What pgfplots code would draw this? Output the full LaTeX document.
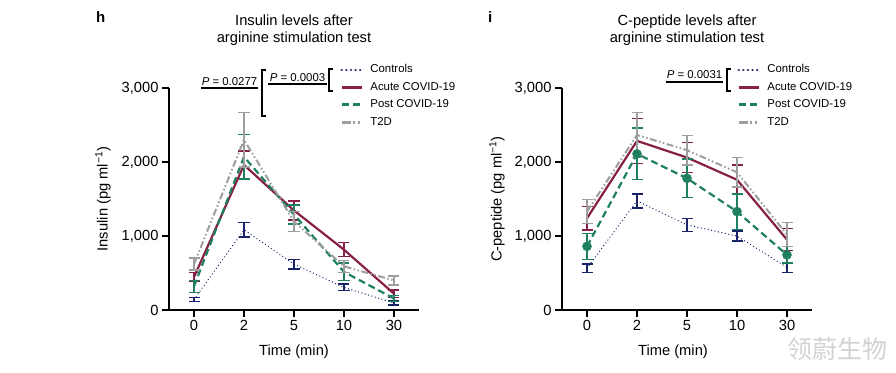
\documentclass[border=0pt]{standalone}
\usepackage{fontspec}
\setmainfont{Liberation Sans}
\newfontfamily\cjk{Noto Sans CJK SC}
\usepackage{pgfplots}
\pgfplotsset{compat=1.18}
\definecolor{cnavy}{RGB}{25,35,105}
\definecolor{cmaroon}{RGB}{135,32,72}
\definecolor{cgreen}{RGB}{30,128,95}
\definecolor{cgray}{RGB}{158,158,158}
\newcommand{\fmain}{\fontsize{14.7bp}{17.6bp}\selectfont}
\newcommand{\fsmall}{\fontsize{11.4bp}{13bp}\selectfont}
\pgfplotsset{
 ctrl/.style={cnavy, line width=1.3bp, line cap=round, dash pattern=on 0.1bp off 3.4bp},
 acute/.style={cmaroon, line width=2.2bp},
 post/.style={cgreen, line width=2.2bp, dash pattern=on 7bp off 4bp},
 t2d/.style={cgray, line width=2bp, dash pattern=on 7bp off 2.5bp on 1.5bp off 2.5bp on 1.5bp off 2.5bp},
 myaxis/.style={
  width=250bp, height=222bp, scale only axis,
  xmin=-0.5, xmax=4.5, ymin=0, ymax=3000,
  axis x line=bottom, axis y line=left,
  axis line style={-, line width=1.2bp, black},
  xtick={0,1,2,3,4}, xticklabels={0,2,5,10,30},
  ytick={0,1000,2000,3000},
  tick align=outside, major tick length=7bp,
  tick style={line width=1.2bp, black},
  /pgf/number format/1000 sep={,},
  /pgf/number format/assume math mode=true,
  tick label style={font=\fmain},
  label style={font=\fmain},
  title style={font=\fmain, align=center, at={(axis description cs:0.5,1.234)}, anchor=center},
  xlabel={Time (min)},
  clip=false,
  legend style={draw=none, fill=none, anchor=north west, inner sep=0pt, outer sep=0pt, font=\fsmall, row sep=6.5bp, column sep=7bp, nodes={inner sep=0pt, text height=8.5bp, text depth=2.5bp}},
  legend cell align=left,
  error bars/y dir=both, error bars/y explicit,
  error bars/error mark=|,
  error bars/error bar style={solid, line width=1.4bp, line cap=butt},
  error bars/error mark options={solid, line width=1.4bp, mark size=5.5bp},
 },
}
\begin{document}
\begin{tikzpicture}
\useasboundingbox (0,0) rectangle (896bp,373bp);
% ---------------- Insulin ----------------
\begin{axis}[myaxis, at={(169bp,63bp)}, anchor=south west,
  title={Insulin levels after\\arginine stimulation test},
  ylabel={Insulin (pg ml\textsuperscript{−1})},
  ylabel style={at={(axis description cs:-0.264,0.5)}, anchor=center},
  xlabel style={at={(axis description cs:0.5,-0.189)}, anchor=center},
  legend image code/.code={\draw[#1] (0bp,0bp) -- (20bp,0bp);},
  legend style={at={(axis description cs:0.684,1.106)}},
]
\addplot[ctrl, forget plot] coordinates {(0,140) +- (0,25) (1,1085) +- (0,100) (2,620) +- (0,65) (3,305) +- (0,45) (4,95) +- (0,30)};
\addplot[acute, forget plot] coordinates {(0,445) +- (0,60) (1,1960) +- (0,190) (2,1345) +- (0,130) (3,815) +- (0,95) (4,220) +- (0,50)};
\addplot[post, forget plot] coordinates {(0,320) +- (0,80) (1,2070) +- (0,300) (2,1290) +- (0,130) (3,515) +- (0,120) (4,155) +- (0,40)};
\addplot[t2d, forget plot] coordinates {(0,620) +- (0,80) (1,2300) +- (0,370) (2,1195) +- (0,135) (3,590) +- (0,80) (4,400) +- (0,60)};
\addlegendimage{cnavy, line width=2.6bp, line cap=round, dash pattern=on 0.1bp off 4.5bp}
\addlegendentry{Controls}
\addlegendimage{cmaroon, line width=3.4bp}
\addlegendentry{Acute COVID-19}
\addlegendimage{cgreen, line width=3bp, dash pattern=on 7bp off 4.5bp}
\addlegendentry{Post COVID-19}
\addlegendimage{cgray, line width=3bp, dash pattern=on 9bp off 2.5bp on 2bp off 2.5bp on 2bp off 3bp}
\addlegendentry{T2D}
% annotations
\draw[line width=1.5bp] (axis description cs:0.128,1.0) -- (axis description cs:0.356,1.0);
\node[anchor=base, font=\fsmall, inner sep=0pt] at (axis description cs:0.242,1.0135) {\textit{P} = 0.0277};
\draw[line width=2bp] (axis description cs:0.386,1.081) -- (axis description cs:0.372,1.081) -- (axis description cs:0.372,0.873) -- (axis description cs:0.386,0.873);
\draw[line width=1.5bp] (axis description cs:0.396,1.018) -- (axis description cs:0.632,1.018);
\node[anchor=base, font=\fsmall, inner sep=0pt] at (axis description cs:0.514,1.0315) {\textit{P} = 0.0003};
\draw[line width=2bp] (axis description cs:0.654,1.086) -- (axis description cs:0.640,1.086) -- (axis description cs:0.640,0.987) -- (axis description cs:0.654,0.987);
\node[anchor=base west, font=\fontsize{15bp}{16bp}\selectfont\bfseries, inner sep=0pt] at (axis description cs:-0.292,1.293) {h};
\end{axis}
% ---------------- C-peptide ----------------
\begin{axis}[myaxis, at={(562bp,63bp)}, anchor=south west,
  title={C-peptide levels after\\arginine stimulation test},
  ylabel={C-peptide (pg ml\textsuperscript{−1})},
  ylabel style={at={(axis description cs:-0.26,0.5)}, anchor=center},
  xlabel style={at={(axis description cs:0.444,-0.189)}, anchor=center},
  legend image code/.code={\draw[#1] (0bp,0bp) -- (20bp,0bp);},
  legend style={at={(axis description cs:0.70,1.106)}},
]
\addplot[ctrl, forget plot] coordinates {(0,565) +- (0,55) (1,1475) +- (0,95) (2,1150) +- (0,90) (3,1000) +- (0,65) (4,575) +- (0,65)};
\addplot[acute, forget plot] coordinates {(0,1240) +- (0,160) (1,2285) +- (0,305) (2,2060) +- (0,200) (3,1760) +- (0,200) (4,950) +- (0,150)};
\addplot[post, forget plot, mark=*, mark size=4.5bp, mark options={solid, fill=cgreen, draw=cgreen, line width=0.5bp}] coordinates {(0,860) +- (0,175) (1,2110) +- (0,350) (2,1780) +- (0,260) (3,1330) +- (0,240) (4,745) +- (0,110)};
\addplot[t2d, forget plot] coordinates {(0,1330) +- (0,160) (1,2365) +- (0,306) (2,2160) +- (0,200) (3,1860) +- (0,200) (4,1020) +- (0,160)};
\addlegendimage{cnavy, line width=2.6bp, line cap=round, dash pattern=on 0.1bp off 4.5bp}
\addlegendentry{Controls}
\addlegendimage{cmaroon, line width=3.4bp}
\addlegendentry{Acute COVID-19}
\addlegendimage{cgreen, line width=3bp, dash pattern=on 7bp off 4.5bp}
\addlegendentry{Post COVID-19}
\addlegendimage{cgray, line width=3bp, dash pattern=on 9bp off 2.5bp on 2bp off 2.5bp on 2bp off 3bp}
\addlegendentry{T2D}
\draw[line width=1.5bp] (axis description cs:0.416,1.027) -- (axis description cs:0.644,1.027);
\node[anchor=base, font=\fsmall, inner sep=0pt] at (axis description cs:0.53,1.045) {\textit{P} = 0.0031};
\draw[line width=2bp] (axis description cs:0.674,1.086) -- (axis description cs:0.660,1.086) -- (axis description cs:0.660,0.987) -- (axis description cs:0.674,0.987);
\node[anchor=base west, font=\fontsize{15bp}{16bp}\selectfont\bfseries, inner sep=0pt] at (axis description cs:-0.296,1.293) {i};
\node[font=\cjk\fontsize{25bp}{27bp}\selectfont, text=gray!35, inner sep=0pt] at (axis description cs:1.1,-0.176) {领蔚生物};
\end{axis}
\end{tikzpicture}
\end{document}
